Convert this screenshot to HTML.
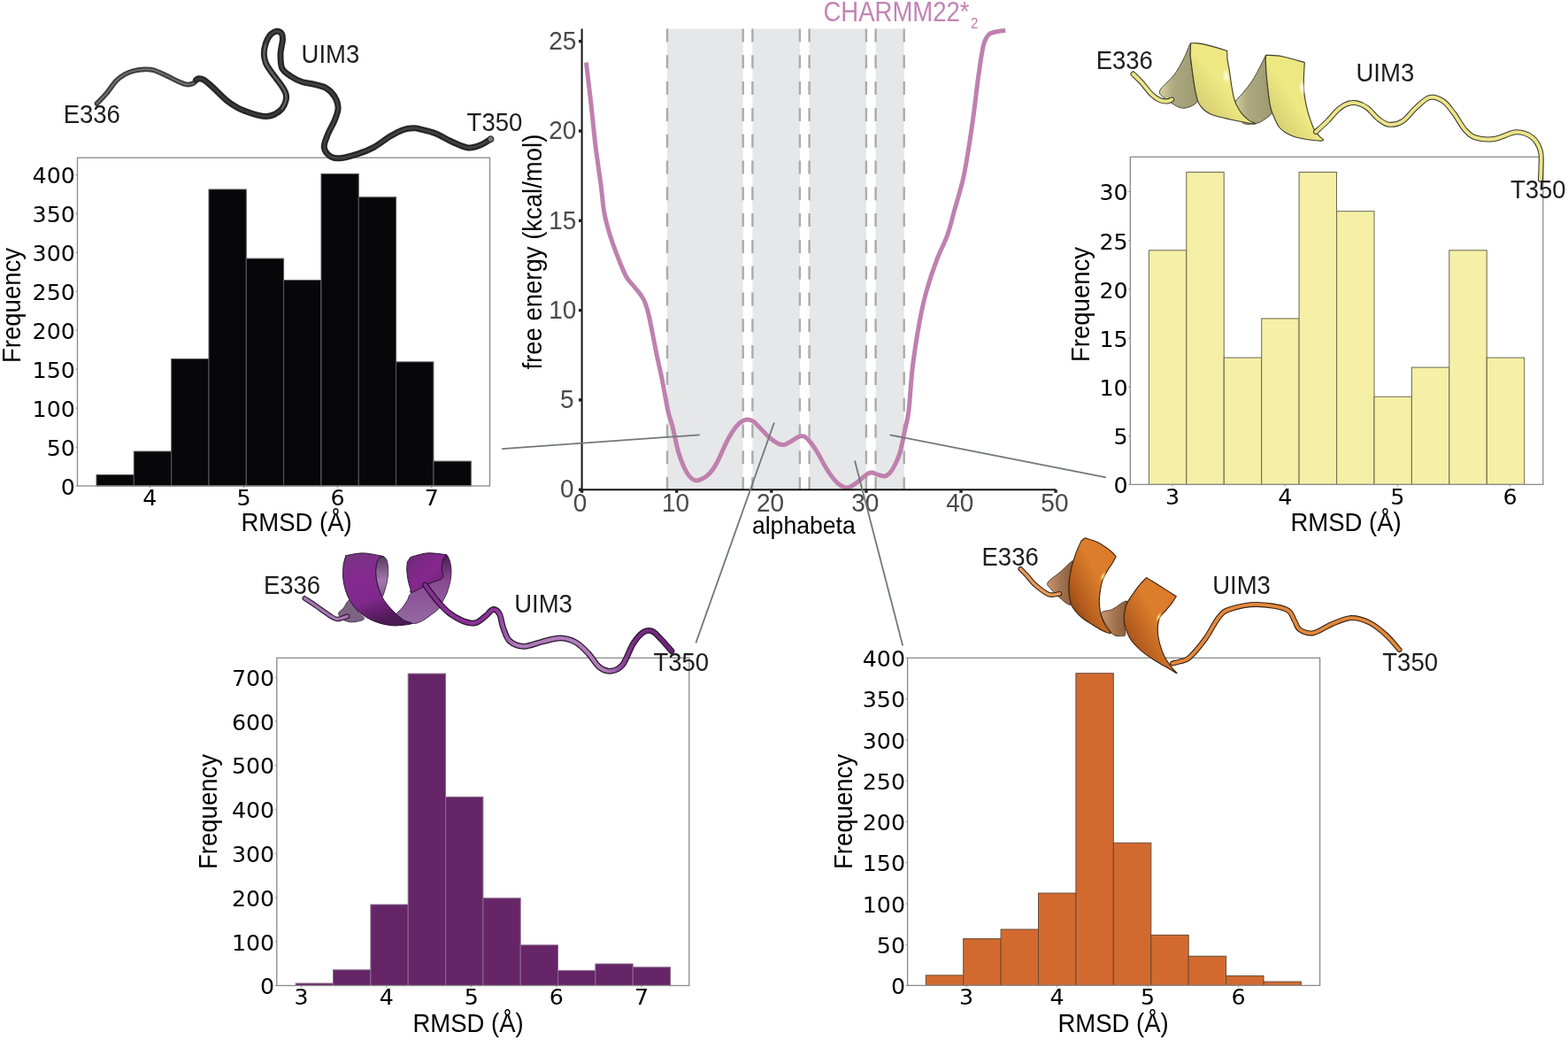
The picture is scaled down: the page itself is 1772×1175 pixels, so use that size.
<!DOCTYPE html>
<html><head><meta charset="utf-8"><title>Free energy and RMSD histograms</title>
<style>html,body{margin:0;padding:0;background:#fff;width:1772px;height:1175px;overflow:hidden}svg{display:block}</style>
</head><body>
<svg width="1772" height="1175" viewBox="0 0 1772 1175">
<defs>
<linearGradient id="gyf" x1="0" y1="1" x2="0.9" y2="0.1"><stop offset="0" stop-color="#a8a262"/><stop offset="0.25" stop-color="#d9d375"/><stop offset="0.55" stop-color="#eee983"/><stop offset="1" stop-color="#ebe57f"/></linearGradient>
<linearGradient id="gyb" x1="0" y1="0" x2="1" y2="0"><stop offset="0" stop-color="#d6d2a0"/><stop offset="0.35" stop-color="#aeaa80"/><stop offset="1" stop-color="#9c9870"/></linearGradient>
<radialGradient id="hw"><stop offset="0" stop-color="#fff" stop-opacity="0.95"/><stop offset="1" stop-color="#fff" stop-opacity="0"/></radialGradient>
<radialGradient id="hyo"><stop offset="0" stop-color="#fff8a0" stop-opacity="1"/><stop offset="1" stop-color="#ffd050" stop-opacity="0"/></radialGradient>
<linearGradient id="gpf" x1="0" y1="0" x2="0.35" y2="1"><stop offset="0" stop-color="#74387f"/><stop offset="0.35" stop-color="#842a90"/><stop offset="0.7" stop-color="#80288c"/><stop offset="1" stop-color="#4e1a56"/></linearGradient>
<linearGradient id="gpf2" x1="0" y1="0" x2="1" y2="1"><stop offset="0" stop-color="#6a2a75"/><stop offset="0.5" stop-color="#86288f"/><stop offset="1" stop-color="#6a2272"/></linearGradient>
<linearGradient id="gpi" x1="0" y1="0" x2="0" y2="1"><stop offset="0" stop-color="#5a3a60"/><stop offset="0.6" stop-color="#a478b0"/><stop offset="1" stop-color="#8a5a95"/></linearGradient>
<linearGradient id="gpb" x1="0" y1="0" x2="0" y2="1"><stop offset="0" stop-color="#4a1a52"/><stop offset="0.4" stop-color="#8a4a95"/><stop offset="1" stop-color="#946aa0"/></linearGradient>
<linearGradient id="gof" x1="0" y1="1" x2="1" y2="0"><stop offset="0" stop-color="#6a3410"/><stop offset="0.3" stop-color="#b55d1e"/><stop offset="0.6" stop-color="#dc7e2c"/><stop offset="1" stop-color="#d97a2a"/></linearGradient>
<linearGradient id="gob" x1="0" y1="0" x2="1" y2="0"><stop offset="0" stop-color="#c89670"/><stop offset="0.5" stop-color="#a47450"/><stop offset="1" stop-color="#8a5e3c"/></linearGradient>
<linearGradient id="gpc" gradientUnits="userSpaceOnUse" x1="480" y1="0" x2="760" y2="0"><stop offset="0" stop-color="#862f92"/><stop offset="0.28" stop-color="#8a3596"/><stop offset="0.36" stop-color="#ac78b8"/><stop offset="0.72" stop-color="#b07fbd"/><stop offset="0.84" stop-color="#7a2c86"/><stop offset="1" stop-color="#6e2379"/></linearGradient>
</defs>
<rect width="1772" height="1175" fill="#fff"/>
<rect x="109" y="536.4" width="42.3" height="12.6" fill="#07070a" stroke="#5a5a5a" stroke-width="1"/>
<rect x="151.3" y="510" width="42.3" height="39" fill="#07070a" stroke="#5a5a5a" stroke-width="1"/>
<rect x="193.7" y="405.5" width="42.3" height="143.5" fill="#07070a" stroke="#5a5a5a" stroke-width="1"/>
<rect x="236" y="214" width="42.3" height="335" fill="#07070a" stroke="#5a5a5a" stroke-width="1"/>
<rect x="278.3" y="292.1" width="42.3" height="256.9" fill="#07070a" stroke="#5a5a5a" stroke-width="1"/>
<rect x="320.6" y="316.6" width="42.3" height="232.4" fill="#07070a" stroke="#5a5a5a" stroke-width="1"/>
<rect x="363" y="196.4" width="42.3" height="352.6" fill="#07070a" stroke="#5a5a5a" stroke-width="1"/>
<rect x="405.3" y="222.8" width="42.3" height="326.2" fill="#07070a" stroke="#5a5a5a" stroke-width="1"/>
<rect x="447.6" y="408.9" width="42.3" height="140.1" fill="#07070a" stroke="#5a5a5a" stroke-width="1"/>
<rect x="490" y="521.1" width="42.3" height="27.9" fill="#07070a" stroke="#5a5a5a" stroke-width="1"/>
<rect x="87.5" y="178.2" width="466" height="370.8" fill="none" stroke="#8a8a8a" stroke-width="1.3"/>
<line x1="85.5" y1="549" x2="87.5" y2="549" stroke="#777" stroke-width="0.8"/>
<text x="84.9" y="558.8" font-size="25.3" font-family="'DejaVu Sans', sans-serif" fill="#000" text-anchor="end" >0</text>
<line x1="85.5" y1="505.1" x2="87.5" y2="505.1" stroke="#777" stroke-width="0.8"/>
<text x="84.9" y="514.9" font-size="25.3" font-family="'DejaVu Sans', sans-serif" fill="#000" text-anchor="end" >50</text>
<line x1="85.5" y1="461.1" x2="87.5" y2="461.1" stroke="#777" stroke-width="0.8"/>
<text x="84.9" y="470.9" font-size="25.3" font-family="'DejaVu Sans', sans-serif" fill="#000" text-anchor="end" >100</text>
<line x1="85.5" y1="417.1" x2="87.5" y2="417.1" stroke="#777" stroke-width="0.8"/>
<text x="84.9" y="426.9" font-size="25.3" font-family="'DejaVu Sans', sans-serif" fill="#000" text-anchor="end" >150</text>
<line x1="85.5" y1="373.2" x2="87.5" y2="373.2" stroke="#777" stroke-width="0.8"/>
<text x="84.9" y="383" font-size="25.3" font-family="'DejaVu Sans', sans-serif" fill="#000" text-anchor="end" >200</text>
<line x1="85.5" y1="329.2" x2="87.5" y2="329.2" stroke="#777" stroke-width="0.8"/>
<text x="84.9" y="339.1" font-size="25.3" font-family="'DejaVu Sans', sans-serif" fill="#000" text-anchor="end" >250</text>
<line x1="85.5" y1="285.3" x2="87.5" y2="285.3" stroke="#777" stroke-width="0.8"/>
<text x="84.9" y="295.1" font-size="25.3" font-family="'DejaVu Sans', sans-serif" fill="#000" text-anchor="end" >300</text>
<line x1="85.5" y1="241.4" x2="87.5" y2="241.4" stroke="#777" stroke-width="0.8"/>
<text x="84.9" y="251.2" font-size="25.3" font-family="'DejaVu Sans', sans-serif" fill="#000" text-anchor="end" >350</text>
<line x1="85.5" y1="197.4" x2="87.5" y2="197.4" stroke="#777" stroke-width="0.8"/>
<text x="84.9" y="207.2" font-size="25.3" font-family="'DejaVu Sans', sans-serif" fill="#000" text-anchor="end" >400</text>
<line x1="169.4" y1="549" x2="169.4" y2="551" stroke="#777" stroke-width="0.8"/>
<text x="169.4" y="571" font-size="25.3" font-family="'DejaVu Sans', sans-serif" fill="#000" text-anchor="middle" >4</text>
<line x1="275.5" y1="549" x2="275.5" y2="551" stroke="#777" stroke-width="0.8"/>
<text x="275.5" y="571" font-size="25.3" font-family="'DejaVu Sans', sans-serif" fill="#000" text-anchor="middle" >5</text>
<line x1="381.6" y1="549" x2="381.6" y2="551" stroke="#777" stroke-width="0.8"/>
<text x="381.6" y="571" font-size="25.3" font-family="'DejaVu Sans', sans-serif" fill="#000" text-anchor="middle" >6</text>
<line x1="487.7" y1="549" x2="487.7" y2="551" stroke="#777" stroke-width="0.8"/>
<text x="487.7" y="571" font-size="25.3" font-family="'DejaVu Sans', sans-serif" fill="#000" text-anchor="middle" >7</text>
<text transform="translate(23 345) rotate(-90) scale(1 1.04)" font-size="27.5" font-family="'Liberation Sans', Arial, sans-serif" fill="#000" text-anchor="middle" >Frequency</text>
<text transform="translate(335 599.7) scale(1 1.04)" font-size="27.5" font-family="'Liberation Sans', Arial, sans-serif" fill="#000" text-anchor="middle" >RMSD (&#197;)</text>
<rect x="1298.4" y="282.8" width="42.4" height="264.6" fill="#f5f0a6" stroke="#6c6850" stroke-width="1"/>
<rect x="1340.8" y="194.5" width="42.4" height="352.9" fill="#f5f0a6" stroke="#6c6850" stroke-width="1"/>
<rect x="1383.3" y="404.1" width="42.4" height="143.3" fill="#f5f0a6" stroke="#6c6850" stroke-width="1"/>
<rect x="1425.7" y="359.9" width="42.4" height="187.5" fill="#f5f0a6" stroke="#6c6850" stroke-width="1"/>
<rect x="1468.1" y="194.5" width="42.4" height="352.9" fill="#f5f0a6" stroke="#6c6850" stroke-width="1"/>
<rect x="1510.6" y="238.7" width="42.4" height="308.7" fill="#f5f0a6" stroke="#6c6850" stroke-width="1"/>
<rect x="1553" y="448.2" width="42.4" height="99.2" fill="#f5f0a6" stroke="#6c6850" stroke-width="1"/>
<rect x="1595.4" y="415.1" width="42.4" height="132.3" fill="#f5f0a6" stroke="#6c6850" stroke-width="1"/>
<rect x="1637.8" y="282.8" width="42.4" height="264.6" fill="#f5f0a6" stroke="#6c6850" stroke-width="1"/>
<rect x="1680.3" y="404.1" width="42.4" height="143.3" fill="#f5f0a6" stroke="#6c6850" stroke-width="1"/>
<rect x="1277.3" y="177.3" width="466.5" height="370.1" fill="none" stroke="#8a8a8a" stroke-width="1.3"/>
<line x1="1275.3" y1="547.4" x2="1277.3" y2="547.4" stroke="#777" stroke-width="0.8"/>
<text x="1274.7" y="557.2" font-size="25.3" font-family="'DejaVu Sans', sans-serif" fill="#000" text-anchor="end" >0</text>
<line x1="1275.3" y1="492.3" x2="1277.3" y2="492.3" stroke="#777" stroke-width="0.8"/>
<text x="1274.7" y="502.1" font-size="25.3" font-family="'DejaVu Sans', sans-serif" fill="#000" text-anchor="end" >5</text>
<line x1="1275.3" y1="437.1" x2="1277.3" y2="437.1" stroke="#777" stroke-width="0.8"/>
<text x="1274.7" y="446.9" font-size="25.3" font-family="'DejaVu Sans', sans-serif" fill="#000" text-anchor="end" >10</text>
<line x1="1275.3" y1="382" x2="1277.3" y2="382" stroke="#777" stroke-width="0.8"/>
<text x="1274.7" y="391.8" font-size="25.3" font-family="'DejaVu Sans', sans-serif" fill="#000" text-anchor="end" >15</text>
<line x1="1275.3" y1="326.9" x2="1277.3" y2="326.9" stroke="#777" stroke-width="0.8"/>
<text x="1274.7" y="336.7" font-size="25.3" font-family="'DejaVu Sans', sans-serif" fill="#000" text-anchor="end" >20</text>
<line x1="1275.3" y1="271.7" x2="1277.3" y2="271.7" stroke="#777" stroke-width="0.8"/>
<text x="1274.7" y="281.5" font-size="25.3" font-family="'DejaVu Sans', sans-serif" fill="#000" text-anchor="end" >25</text>
<line x1="1275.3" y1="216.6" x2="1277.3" y2="216.6" stroke="#777" stroke-width="0.8"/>
<text x="1274.7" y="226.4" font-size="25.3" font-family="'DejaVu Sans', sans-serif" fill="#000" text-anchor="end" >30</text>
<line x1="1325" y1="547.4" x2="1325" y2="549.4" stroke="#777" stroke-width="0.8"/>
<text x="1325" y="570" font-size="25.3" font-family="'DejaVu Sans', sans-serif" fill="#000" text-anchor="middle" >3</text>
<line x1="1452.2" y1="547.4" x2="1452.2" y2="549.4" stroke="#777" stroke-width="0.8"/>
<text x="1452.2" y="570" font-size="25.3" font-family="'DejaVu Sans', sans-serif" fill="#000" text-anchor="middle" >4</text>
<line x1="1579.4" y1="547.4" x2="1579.4" y2="549.4" stroke="#777" stroke-width="0.8"/>
<text x="1579.4" y="570" font-size="25.3" font-family="'DejaVu Sans', sans-serif" fill="#000" text-anchor="middle" >5</text>
<line x1="1706.6" y1="547.4" x2="1706.6" y2="549.4" stroke="#777" stroke-width="0.8"/>
<text x="1706.6" y="570" font-size="25.3" font-family="'DejaVu Sans', sans-serif" fill="#000" text-anchor="middle" >6</text>
<text transform="translate(1231 344) rotate(-90) scale(1 1.04)" font-size="27.5" font-family="'Liberation Sans', Arial, sans-serif" fill="#000" text-anchor="middle" >Frequency</text>
<text transform="translate(1521 599.5) scale(1 1.04)" font-size="27.5" font-family="'Liberation Sans', Arial, sans-serif" fill="#000" text-anchor="middle" >RMSD (&#197;)</text>
<rect x="334.2" y="1111" width="42.3" height="2.5" fill="#652567" stroke="#8a6a8c" stroke-width="1"/>
<rect x="376.5" y="1095.8" width="42.3" height="17.7" fill="#652567" stroke="#8a6a8c" stroke-width="1"/>
<rect x="418.9" y="1022" width="42.3" height="91.5" fill="#652567" stroke="#8a6a8c" stroke-width="1"/>
<rect x="461.2" y="761.1" width="42.3" height="352.4" fill="#652567" stroke="#8a6a8c" stroke-width="1"/>
<rect x="503.6" y="900.4" width="42.3" height="213.1" fill="#652567" stroke="#8a6a8c" stroke-width="1"/>
<rect x="545.9" y="1014.8" width="42.3" height="98.7" fill="#652567" stroke="#8a6a8c" stroke-width="1"/>
<rect x="588.2" y="1067.8" width="42.3" height="45.7" fill="#652567" stroke="#8a6a8c" stroke-width="1"/>
<rect x="630.6" y="1096.6" width="42.3" height="16.9" fill="#652567" stroke="#8a6a8c" stroke-width="1"/>
<rect x="672.9" y="1089" width="42.3" height="24.5" fill="#652567" stroke="#8a6a8c" stroke-width="1"/>
<rect x="715.3" y="1092.8" width="42.3" height="20.7" fill="#652567" stroke="#8a6a8c" stroke-width="1"/>
<rect x="312.8" y="743.3" width="466" height="370.2" fill="none" stroke="#8a8a8a" stroke-width="1.3"/>
<line x1="310.8" y1="1113.5" x2="312.8" y2="1113.5" stroke="#777" stroke-width="0.8"/>
<text x="310.2" y="1123.3" font-size="25.3" font-family="'DejaVu Sans', sans-serif" fill="#000" text-anchor="end" >0</text>
<line x1="310.8" y1="1063.7" x2="312.8" y2="1063.7" stroke="#777" stroke-width="0.8"/>
<text x="310.2" y="1073.5" font-size="25.3" font-family="'DejaVu Sans', sans-serif" fill="#000" text-anchor="end" >100</text>
<line x1="310.8" y1="1013.9" x2="312.8" y2="1013.9" stroke="#777" stroke-width="0.8"/>
<text x="310.2" y="1023.7" font-size="25.3" font-family="'DejaVu Sans', sans-serif" fill="#000" text-anchor="end" >200</text>
<line x1="310.8" y1="964.1" x2="312.8" y2="964.1" stroke="#777" stroke-width="0.8"/>
<text x="310.2" y="973.9" font-size="25.3" font-family="'DejaVu Sans', sans-serif" fill="#000" text-anchor="end" >300</text>
<line x1="310.8" y1="914.4" x2="312.8" y2="914.4" stroke="#777" stroke-width="0.8"/>
<text x="310.2" y="924.2" font-size="25.3" font-family="'DejaVu Sans', sans-serif" fill="#000" text-anchor="end" >400</text>
<line x1="310.8" y1="864.6" x2="312.8" y2="864.6" stroke="#777" stroke-width="0.8"/>
<text x="310.2" y="874.4" font-size="25.3" font-family="'DejaVu Sans', sans-serif" fill="#000" text-anchor="end" >500</text>
<line x1="310.8" y1="814.8" x2="312.8" y2="814.8" stroke="#777" stroke-width="0.8"/>
<text x="310.2" y="824.6" font-size="25.3" font-family="'DejaVu Sans', sans-serif" fill="#000" text-anchor="end" >600</text>
<line x1="310.8" y1="765" x2="312.8" y2="765" stroke="#777" stroke-width="0.8"/>
<text x="310.2" y="774.8" font-size="25.3" font-family="'DejaVu Sans', sans-serif" fill="#000" text-anchor="end" >700</text>
<line x1="340.6" y1="1113.5" x2="340.6" y2="1115.5" stroke="#777" stroke-width="0.8"/>
<text x="340.6" y="1135" font-size="25.3" font-family="'DejaVu Sans', sans-serif" fill="#000" text-anchor="middle" >3</text>
<line x1="436.7" y1="1113.5" x2="436.7" y2="1115.5" stroke="#777" stroke-width="0.8"/>
<text x="436.7" y="1135" font-size="25.3" font-family="'DejaVu Sans', sans-serif" fill="#000" text-anchor="middle" >4</text>
<line x1="532.8" y1="1113.5" x2="532.8" y2="1115.5" stroke="#777" stroke-width="0.8"/>
<text x="532.8" y="1135" font-size="25.3" font-family="'DejaVu Sans', sans-serif" fill="#000" text-anchor="middle" >5</text>
<line x1="628.9" y1="1113.5" x2="628.9" y2="1115.5" stroke="#777" stroke-width="0.8"/>
<text x="628.9" y="1135" font-size="25.3" font-family="'DejaVu Sans', sans-serif" fill="#000" text-anchor="middle" >6</text>
<line x1="725" y1="1113.5" x2="725" y2="1115.5" stroke="#777" stroke-width="0.8"/>
<text x="725" y="1135" font-size="25.3" font-family="'DejaVu Sans', sans-serif" fill="#000" text-anchor="middle" >7</text>
<text transform="translate(245 917) rotate(-90) scale(1 1.04)" font-size="27.5" font-family="'Liberation Sans', Arial, sans-serif" fill="#000" text-anchor="middle" >Frequency</text>
<text transform="translate(529 1165.5) scale(1 1.04)" font-size="27.5" font-family="'Liberation Sans', Arial, sans-serif" fill="#000" text-anchor="middle" >RMSD (&#197;)</text>
<rect x="1046.3" y="1101.9" width="42.4" height="11.5" fill="#d26a30" stroke="#6a4a35" stroke-width="1"/>
<rect x="1088.7" y="1060.6" width="42.4" height="52.8" fill="#d26a30" stroke="#6a4a35" stroke-width="1"/>
<rect x="1131.1" y="1050" width="42.4" height="63.4" fill="#d26a30" stroke="#6a4a35" stroke-width="1"/>
<rect x="1173.5" y="1009.1" width="42.4" height="104.3" fill="#d26a30" stroke="#6a4a35" stroke-width="1"/>
<rect x="1215.9" y="760.7" width="42.4" height="352.7" fill="#d26a30" stroke="#6a4a35" stroke-width="1"/>
<rect x="1258.4" y="952.3" width="42.4" height="161.1" fill="#d26a30" stroke="#6a4a35" stroke-width="1"/>
<rect x="1300.8" y="1056.4" width="42.4" height="57" fill="#d26a30" stroke="#6a4a35" stroke-width="1"/>
<rect x="1343.2" y="1080.3" width="42.4" height="33.1" fill="#d26a30" stroke="#6a4a35" stroke-width="1"/>
<rect x="1385.6" y="1102.6" width="42.4" height="10.8" fill="#d26a30" stroke="#6a4a35" stroke-width="1"/>
<rect x="1428" y="1109.1" width="42.4" height="4.3" fill="#d26a30" stroke="#6a4a35" stroke-width="1"/>
<rect x="1025.6" y="743.3" width="466" height="370.1" fill="none" stroke="#8a8a8a" stroke-width="1.3"/>
<line x1="1023.6" y1="1113.4" x2="1025.6" y2="1113.4" stroke="#777" stroke-width="0.8"/>
<text x="1023" y="1123.2" font-size="25.3" font-family="'DejaVu Sans', sans-serif" fill="#000" text-anchor="end" >0</text>
<line x1="1023.6" y1="1067.1" x2="1025.6" y2="1067.1" stroke="#777" stroke-width="0.8"/>
<text x="1023" y="1076.9" font-size="25.3" font-family="'DejaVu Sans', sans-serif" fill="#000" text-anchor="end" >50</text>
<line x1="1023.6" y1="1020.9" x2="1025.6" y2="1020.9" stroke="#777" stroke-width="0.8"/>
<text x="1023" y="1030.7" font-size="25.3" font-family="'DejaVu Sans', sans-serif" fill="#000" text-anchor="end" >100</text>
<line x1="1023.6" y1="974.6" x2="1025.6" y2="974.6" stroke="#777" stroke-width="0.8"/>
<text x="1023" y="984.4" font-size="25.3" font-family="'DejaVu Sans', sans-serif" fill="#000" text-anchor="end" >150</text>
<line x1="1023.6" y1="928.4" x2="1025.6" y2="928.4" stroke="#777" stroke-width="0.8"/>
<text x="1023" y="938.1" font-size="25.3" font-family="'DejaVu Sans', sans-serif" fill="#000" text-anchor="end" >200</text>
<line x1="1023.6" y1="882.1" x2="1025.6" y2="882.1" stroke="#777" stroke-width="0.8"/>
<text x="1023" y="891.9" font-size="25.3" font-family="'DejaVu Sans', sans-serif" fill="#000" text-anchor="end" >250</text>
<line x1="1023.6" y1="835.8" x2="1025.6" y2="835.8" stroke="#777" stroke-width="0.8"/>
<text x="1023" y="845.6" font-size="25.3" font-family="'DejaVu Sans', sans-serif" fill="#000" text-anchor="end" >300</text>
<line x1="1023.6" y1="789.6" x2="1025.6" y2="789.6" stroke="#777" stroke-width="0.8"/>
<text x="1023" y="799.4" font-size="25.3" font-family="'DejaVu Sans', sans-serif" fill="#000" text-anchor="end" >350</text>
<line x1="1023.6" y1="743.3" x2="1025.6" y2="743.3" stroke="#777" stroke-width="0.8"/>
<text x="1023" y="753.1" font-size="25.3" font-family="'DejaVu Sans', sans-serif" fill="#000" text-anchor="end" >400</text>
<line x1="1092.1" y1="1113.4" x2="1092.1" y2="1115.4" stroke="#777" stroke-width="0.8"/>
<text x="1092.1" y="1135" font-size="25.3" font-family="'DejaVu Sans', sans-serif" fill="#000" text-anchor="middle" >3</text>
<line x1="1194.6" y1="1113.4" x2="1194.6" y2="1115.4" stroke="#777" stroke-width="0.8"/>
<text x="1194.6" y="1135" font-size="25.3" font-family="'DejaVu Sans', sans-serif" fill="#000" text-anchor="middle" >4</text>
<line x1="1297.1" y1="1113.4" x2="1297.1" y2="1115.4" stroke="#777" stroke-width="0.8"/>
<text x="1297.1" y="1135" font-size="25.3" font-family="'DejaVu Sans', sans-serif" fill="#000" text-anchor="middle" >5</text>
<line x1="1399.6" y1="1113.4" x2="1399.6" y2="1115.4" stroke="#777" stroke-width="0.8"/>
<text x="1399.6" y="1135" font-size="25.3" font-family="'DejaVu Sans', sans-serif" fill="#000" text-anchor="middle" >6</text>
<text transform="translate(963 917) rotate(-90) scale(1 1.04)" font-size="27.5" font-family="'Liberation Sans', Arial, sans-serif" fill="#000" text-anchor="middle" >Frequency</text>
<text transform="translate(1258 1165.5) scale(1 1.04)" font-size="27.5" font-family="'Liberation Sans', Arial, sans-serif" fill="#000" text-anchor="middle" >RMSD (&#197;)</text>
<rect x="754" y="32.5" width="85.7" height="520.7" fill="#e6e7e8"/>
<rect x="850.4" y="32.5" width="53.5" height="520.7" fill="#e6e7e8"/>
<rect x="914.6" y="32.5" width="64.3" height="520.7" fill="#e6e7e8"/>
<rect x="989.6" y="32.5" width="32.1" height="520.7" fill="#e6e7e8"/>
<line x1="754" y1="32.5" x2="754" y2="553.2" stroke="#ababab" stroke-width="2.4" stroke-dasharray="15 14.8"/>
<line x1="839.7" y1="32.5" x2="839.7" y2="553.2" stroke="#ababab" stroke-width="2.4" stroke-dasharray="15 14.8"/>
<line x1="850.4" y1="32.5" x2="850.4" y2="553.2" stroke="#ababab" stroke-width="2.4" stroke-dasharray="15 14.8"/>
<line x1="903.9" y1="32.5" x2="903.9" y2="553.2" stroke="#ababab" stroke-width="2.4" stroke-dasharray="15 14.8"/>
<line x1="914.6" y1="32.5" x2="914.6" y2="553.2" stroke="#ababab" stroke-width="2.4" stroke-dasharray="15 14.8"/>
<line x1="978.9" y1="32.5" x2="978.9" y2="553.2" stroke="#ababab" stroke-width="2.4" stroke-dasharray="15 14.8"/>
<line x1="989.6" y1="32.5" x2="989.6" y2="553.2" stroke="#ababab" stroke-width="2.4" stroke-dasharray="15 14.8"/>
<line x1="1021.7" y1="32.5" x2="1021.7" y2="553.2" stroke="#ababab" stroke-width="2.4" stroke-dasharray="15 14.8"/>
<path d="M662.4 70.6 C663.3 78 665.9 99.3 667.7 115.3 C669.5 131.3 671.3 150.8 673.2 166.4 C675.1 182 677.5 196.9 679.1 209 C680.7 221.1 681 229.5 682.6 238.7 C684.2 247.9 686.1 255.1 688.9 264.3 C691.7 273.5 696.4 285.9 699.6 294 C702.8 302.1 705.3 308.2 708.1 313.2 C710.9 318.2 713.8 320.2 716.6 323.8 C719.4 327.4 723 331.3 725.1 334.5 C727.2 337.7 728 339.1 729.4 343 C730.8 346.9 731.5 348.3 733.6 357.9 C735.7 367.5 739.6 388.3 742.1 400.4 C744.6 412.4 746.4 419.5 748.5 430.2 C750.6 440.9 753 455.7 754.9 464.3 C756.8 472.9 758.1 474.5 760 482 C761.9 489.5 764.2 502 766.3 509.5 C768.4 517 770.5 522.1 772.6 526.9 C774.7 531.6 776.9 535.4 779 538 C781.1 540.6 783.2 542.1 785.3 542.7 C787.4 543.4 789.2 542.8 791.6 541.9 C794 541 797.1 539.2 799.5 537.2 C801.9 535.2 803.7 533 805.8 530 C807.9 527 809.7 523.7 812.1 519 C814.5 514.3 817.4 506.9 820 501.6 C822.6 496.3 825.4 491.3 828 487.4 C830.6 483.4 833.2 480.1 835.8 477.9 C838.4 475.7 841.1 474.3 843.7 474 C846.3 473.7 848.7 474.3 851.6 476.3 C854.5 478.3 857.9 482.6 861.1 485.8 C864.3 489 867.4 492.7 870.6 495.3 C873.8 497.9 877.5 500.4 880.1 501.6 C882.7 502.8 884 502.9 886.4 502.4 C888.8 501.9 891.7 499.9 894.3 498.5 C896.9 497.1 899.8 494.6 902.2 493.7 C904.6 492.8 906.4 492.1 908.5 492.9 C910.6 493.7 912.5 495.7 914.9 498.5 C917.3 501.3 920.2 505.3 922.8 509.5 C925.4 513.7 928.1 519.2 930.7 523.7 C933.3 528.2 936 532.7 938.6 536.4 C941.2 540.1 943.9 543.5 946.5 545.9 C949.1 548.3 952.3 549.8 954.4 550.6 C956.5 551.4 957.3 551.1 959.1 550.6 C960.9 550.1 963 549 965.4 547.4 C967.8 545.8 970.7 543.2 973.3 541.1 C975.9 539 979.1 536 981.2 534.8 C983.3 533.6 984.1 533.7 986 534 C987.9 534.3 989.9 535.7 992.3 536.4 C994.7 537.1 997.8 538.5 1000.2 538 C1002.6 537.5 1004.4 535.8 1006.5 533.2 C1008.6 530.6 1010.9 526.2 1012.8 522.2 C1014.6 518.2 1016 515.3 1017.6 509.5 C1019.2 503.7 1020.7 495 1022.3 487.4 C1023.9 479.8 1025.5 475.8 1027 463.7 C1028.5 451.6 1029.3 431.5 1031.3 414.9 C1033.3 398.3 1036.5 378.4 1039.1 364 C1041.7 349.6 1043.7 340.6 1047 328.8 C1050.3 317.1 1054.8 303.9 1058.7 293.5 C1062.6 283.1 1067.2 275.2 1070.5 266.1 C1073.8 257 1075.4 249.1 1078.3 238.7 C1081.2 228.3 1085.5 214.6 1088.1 203.5 C1090.7 192.4 1092 183.9 1093.9 172.2 C1095.9 160.5 1097.8 147.4 1099.8 133.1 C1101.8 118.8 1103.8 99.8 1105.7 86.1 C1107.7 72.4 1109.5 58.7 1111.5 50.9 C1113.5 43.1 1115.1 41.6 1117.4 39.1 C1119.7 36.6 1122.1 36.8 1125.2 36 C1128.3 35.2 1134.4 34.7 1136.2 34.4" fill="none" stroke="#bf80ae" stroke-width="5.0" stroke-linejoin="round"/>
<line x1="657.6" y1="32.5" x2="657.6" y2="554.2" stroke="#111" stroke-width="2"/>
<line x1="656.6" y1="553.2" x2="1193.1" y2="553.2" stroke="#111" stroke-width="2"/>
<line x1="654" y1="553.2" x2="657.6" y2="553.2" stroke="#222" stroke-width="3.4"/>
<text transform="translate(648.7 562.4) scale(1 1.04)" font-size="28" font-family="'Liberation Sans', Arial, sans-serif" fill="#4a4a4a" text-anchor="end" >0</text>
<line x1="654" y1="451.9" x2="657.6" y2="451.9" stroke="#222" stroke-width="3.4"/>
<text transform="translate(648.7 461.1) scale(1 1.04)" font-size="28" font-family="'Liberation Sans', Arial, sans-serif" fill="#4a4a4a" text-anchor="end" >5</text>
<line x1="654" y1="350.6" x2="657.6" y2="350.6" stroke="#222" stroke-width="3.4"/>
<text transform="translate(651.3 359.8) scale(1 1.04)" font-size="28" font-family="'Liberation Sans', Arial, sans-serif" fill="#4a4a4a" text-anchor="end" >10</text>
<line x1="654" y1="249.3" x2="657.6" y2="249.3" stroke="#222" stroke-width="3.4"/>
<text transform="translate(651.3 258.5) scale(1 1.04)" font-size="28" font-family="'Liberation Sans', Arial, sans-serif" fill="#4a4a4a" text-anchor="end" >15</text>
<line x1="654" y1="148" x2="657.6" y2="148" stroke="#222" stroke-width="3.4"/>
<text transform="translate(651.3 157.2) scale(1 1.04)" font-size="28" font-family="'Liberation Sans', Arial, sans-serif" fill="#4a4a4a" text-anchor="end" >20</text>
<line x1="654" y1="46.7" x2="657.6" y2="46.7" stroke="#222" stroke-width="3.4"/>
<text transform="translate(651.3 55.9) scale(1 1.04)" font-size="28" font-family="'Liberation Sans', Arial, sans-serif" fill="#4a4a4a" text-anchor="end" >25</text>
<line x1="657.6" y1="553.2" x2="657.6" y2="556.8" stroke="#222" stroke-width="3.4"/>
<text transform="translate(655.5 578.4) scale(1 1.04)" font-size="28" font-family="'Liberation Sans', Arial, sans-serif" fill="#4a4a4a" text-anchor="middle" >0</text>
<line x1="764.7" y1="553.2" x2="764.7" y2="556.8" stroke="#222" stroke-width="3.4"/>
<text transform="translate(763.5 578.4) scale(1 1.04)" font-size="28" font-family="'Liberation Sans', Arial, sans-serif" fill="#4a4a4a" text-anchor="middle" >10</text>
<line x1="871.8" y1="553.2" x2="871.8" y2="556.8" stroke="#222" stroke-width="3.4"/>
<text transform="translate(870.6 578.4) scale(1 1.04)" font-size="28" font-family="'Liberation Sans', Arial, sans-serif" fill="#4a4a4a" text-anchor="middle" >20</text>
<line x1="978.9" y1="553.2" x2="978.9" y2="556.8" stroke="#222" stroke-width="3.4"/>
<text transform="translate(977.7 578.4) scale(1 1.04)" font-size="28" font-family="'Liberation Sans', Arial, sans-serif" fill="#4a4a4a" text-anchor="middle" >30</text>
<line x1="1086" y1="553.2" x2="1086" y2="556.8" stroke="#222" stroke-width="3.4"/>
<text transform="translate(1084.8 578.4) scale(1 1.04)" font-size="28" font-family="'Liberation Sans', Arial, sans-serif" fill="#4a4a4a" text-anchor="middle" >40</text>
<line x1="1193.1" y1="553.2" x2="1193.1" y2="556.8" stroke="#222" stroke-width="3.4"/>
<text transform="translate(1191.9 578.4) scale(1 1.04)" font-size="28" font-family="'Liberation Sans', Arial, sans-serif" fill="#4a4a4a" text-anchor="middle" >50</text>
<text transform="translate(908.3 603) scale(1 1.04)" font-size="26.6" font-family="'Liberation Sans', Arial, sans-serif" fill="#000" text-anchor="middle" >alphabeta</text>
<text transform="translate(612.1 284.6) rotate(-90) scale(1 1.04)" font-size="27.5" font-family="'Liberation Sans', Arial, sans-serif" fill="#000" text-anchor="middle" >free energy (kcal/mol)</text>
<text transform="translate(930.5 23.6) scale(1 1.04)" font-size="29.5" font-family="'Liberation Sans', Arial, sans-serif" fill="#c383b4" text-anchor="start" textLength="165" lengthAdjust="spacingAndGlyphs">CHARMM22*</text>
<text transform="translate(1097 32.3) scale(1 1.04)" font-size="15" font-family="'Liberation Sans', Arial, sans-serif" fill="#c07fb0" text-anchor="start" >2</text>
<line x1="567.1" y1="507.2" x2="790.6" y2="491.3" stroke="#73777c" stroke-width="1.8"/>
<line x1="1005.6" y1="491.3" x2="1249.9" y2="539.3" stroke="#73777c" stroke-width="1.8"/>
<line x1="874.9" y1="477.5" x2="786.4" y2="726.4" stroke="#73777c" stroke-width="1.8"/>
<line x1="966" y1="520.6" x2="1020.2" y2="729.4" stroke="#73777c" stroke-width="1.8"/>
<path d="M109.5 117.1 C111.2 115.3 116.1 110.4 119.8 106.1 C123.5 101.8 128 94.8 131.6 91.1 C135.2 87.4 137.8 85.8 141.1 84 C144.4 82.2 147.7 80.9 151.4 80 C155.1 79.1 159.5 78.5 163.2 78.4 C166.9 78.3 169.6 78.1 173.5 79.2 C177.4 80.3 182.3 82.7 186.9 84.8 C191.5 86.9 197.2 90.1 201.1 91.9 C205 93.7 207.7 95 210.6 95.4 C213.5 95.8 216.7 95 218.5 94.2 C220.3 93.4 221 91.1 221.5 90.5" fill="none" stroke="#3e3e3e" stroke-width="5.8" stroke-linecap="round" stroke-linejoin="round"/>
<path d="M109.5 117.1 C111.2 115.3 116.1 110.4 119.8 106.1 C123.5 101.8 128 94.8 131.6 91.1 C135.2 87.4 137.8 85.8 141.1 84 C144.4 82.2 147.7 80.9 151.4 80 C155.1 79.1 159.5 78.5 163.2 78.4 C166.9 78.3 169.6 78.1 173.5 79.2 C177.4 80.3 182.3 82.7 186.9 84.8 C191.5 86.9 197.2 90.1 201.1 91.9 C205 93.7 207.7 95 210.6 95.4 C213.5 95.8 216.7 95 218.5 94.2 C220.3 93.4 221 91.1 221.5 90.5" fill="none" stroke="#747474" stroke-width="1.8" stroke-linecap="round" stroke-linejoin="round"/>
<path d="M221.5 90.5 C222 90.2 223 88.8 224.5 88.8 C226 88.8 227.8 88.7 230.4 90.3 C233 91.9 235.9 94.5 240 98.2 C244.1 101.9 250.3 108.5 254.8 112.3 C259.3 116.1 263.1 118.6 267.2 121 C271.3 123.4 275.5 125 279.7 126.6 C283.9 128.2 288.5 129.5 292.1 130.3 C295.7 131.1 298.3 131.7 301.4 131.5 C304.5 131.3 307.8 130.4 310.7 129 C313.6 127.5 316.7 125.4 318.8 122.8 C320.9 120.2 322.4 116.3 323.1 113.5 C323.8 110.7 323.7 108.6 323.1 106.1 C322.5 103.6 321.1 101.4 319.4 98.6 C317.6 95.8 314.9 92.4 312.6 89.3 C310.3 86.2 307.8 83 305.7 80 C303.6 77 301.5 74.2 300.3 71 C299.1 67.8 298.3 64.7 298.3 61 C298.3 57.3 299.2 52.4 300.3 49 C301.4 45.6 303.1 42.6 304.6 40.5 C306.1 38.4 307.9 37.1 309.5 36.3 C311.1 35.4 313 35 314.5 35.4 C316 35.8 317.8 37 318.6 38.6 C319.4 40.2 319.5 42.5 319.4 45 C319.3 47.5 318.4 50.7 318 53.5 C317.6 56.3 316.9 58 317 62 C317.1 66 316.8 73.1 318.8 77.2 C320.8 81.3 325.2 83.9 329 86.4 C332.8 89 336.7 91 341.3 92.5 C345.9 94 352 94.4 356.6 95.6 C361.2 96.8 365.3 97.5 368.9 99.7 C372.5 101.9 375.8 105.2 378 108.9 C380.2 112.6 382.1 117.5 382.1 122.1 C382.1 126.7 379.9 131.6 378 136.4 C376.1 141.2 372.8 146 370.8 151 C368.9 156 365.8 162 366.3 166.3 C366.8 170.6 370.6 174.9 373.9 176.9 C377.2 178.9 381 179 386.1 178.5 C391.2 178 398.3 175.9 404.4 173.9 C410.5 171.9 416.5 169.6 422.6 166.3 C428.7 163 435.3 157.4 440.9 154.1 C446.5 150.8 451.7 148.1 456.2 146.5 C460.7 144.9 465 144.9 468 144.8 C471 144.7 470.3 144.9 474.4 145.9 C478.5 146.9 486.6 148.6 492.7 151 C498.8 153.4 504.8 157.5 510.9 160.2 C517 162.8 523.7 166.4 529.3 166.9 C534.9 167.4 540.3 164.8 544.5 163.2 C548.7 161.6 552.8 158.2 554.5 157.2" fill="none" stroke="#262626" stroke-width="7" stroke-linecap="round" stroke-linejoin="round"/>
<path d="M221.5 90.5 C222 90.2 223 88.8 224.5 88.8 C226 88.8 227.8 88.7 230.4 90.3 C233 91.9 235.9 94.5 240 98.2 C244.1 101.9 250.3 108.5 254.8 112.3 C259.3 116.1 263.1 118.6 267.2 121 C271.3 123.4 275.5 125 279.7 126.6 C283.9 128.2 288.5 129.5 292.1 130.3 C295.7 131.1 298.3 131.7 301.4 131.5 C304.5 131.3 307.8 130.4 310.7 129 C313.6 127.5 317.4 123.8 318.8 122.8" fill="none" stroke="#3c3c3c" stroke-width="2.4" stroke-linecap="round" stroke-linejoin="round"/>
<path d="M318.8 122.8 C319.5 121.2 322.4 116.3 323.1 113.5 C323.8 110.7 323.7 108.6 323.1 106.1 C322.5 103.6 321.1 101.4 319.4 98.6 C317.6 95.8 314.9 92.4 312.6 89.3 C310.3 86.2 307.8 83 305.7 80 C303.6 77 301.5 74.2 300.3 71 C299.1 67.8 298.3 64.7 298.3 61 C298.3 57.3 300 51 300.3 49" fill="none" stroke="#626262" stroke-width="2.4" stroke-linecap="round" stroke-linejoin="round"/>
<path d="M300.3 49 C301 47.6 303.1 42.6 304.6 40.5 C306.1 38.4 307.9 37.1 309.5 36.3 C311.1 35.4 313 35 314.5 35.4 C316 35.8 317.8 37 318.6 38.6 C319.4 40.2 319.5 42.5 319.4 45 C319.3 47.5 318.4 50.7 318 53.5 C317.6 56.3 316.9 58 317 62 C317.1 66 316.8 73.1 318.8 77.2 C320.8 81.3 325.2 83.9 329 86.4 C332.8 89 336.7 91 341.3 92.5 C345.9 94 352 94.4 356.6 95.6 C361.2 96.8 365.3 97.5 368.9 99.7 C372.5 101.9 375.8 105.2 378 108.9 C380.2 112.6 382.1 117.5 382.1 122.1 C382.1 126.7 379.9 131.6 378 136.4 C376.1 141.2 372.8 146 370.8 151 C368.9 156 365.8 162 366.3 166.3 C366.8 170.6 370.6 174.9 373.9 176.9 C377.2 178.9 381 179 386.1 178.5 C391.2 178 398.3 175.9 404.4 173.9 C410.5 171.9 416.5 169.6 422.6 166.3 C428.7 163 435.3 157.4 440.9 154.1 C446.5 150.8 451.7 148.1 456.2 146.5 C460.7 144.9 465 144.9 468 144.8 C471 144.7 470.3 144.9 474.4 145.9 C478.5 146.9 486.6 148.6 492.7 151 C498.8 153.4 504.8 157.5 510.9 160.2 C517 162.8 523.7 166.4 529.3 166.9 C534.9 167.4 540.3 164.8 544.5 163.2 C548.7 161.6 552.8 158.2 554.5 157.2" fill="none" stroke="#424242" stroke-width="2.4" stroke-linecap="round" stroke-linejoin="round"/>
<circle cx="554.5" cy="157.2" r="3.4" fill="#777" stroke="#222" stroke-width="1"/>
<path d="M1345.6 48.9 C1344.3 49.6 1340.6 60.8 1337.5 66.8 C1334.4 72.8 1331.3 78.7 1326.8 84.7 C1322.3 90.7 1312.2 98 1310.7 102.6 C1309.2 107.1 1313.7 108.7 1318 112 C1322.3 115.3 1330.7 121.8 1336.6 122.2 C1342.5 122.6 1351.4 118.2 1353.6 114.2 C1355.8 110.2 1351 103.8 1350 98.1 C1349 92.4 1348.2 86.2 1347.4 80.2 C1346.6 74.2 1345.4 67.5 1345.1 62.3 C1344.8 57.1 1346.9 48.1 1345.6 48.9Z" fill="url(#gyb)" stroke="#3b3b2c" stroke-width="0.9" stroke-linejoin="round" />
<path d="M1430.7 62.2 C1430.2 62.4 1428.7 65.9 1427.3 68.6 C1425.9 71.3 1424.5 74.5 1422.4 78.4 C1420.3 82.3 1417.5 87.7 1414.6 92.1 C1411.7 96.5 1408.1 100.7 1404.8 104.8 C1401.5 108.9 1396.3 113.2 1395 116.6 C1393.7 120 1395.4 121.2 1397 125 C1398.6 128.8 1401.2 136.7 1404.8 139.1 C1408.4 141.5 1414.8 140.1 1418.5 139.6 C1422.2 139.1 1424.2 138 1427.3 136.1 C1430.4 134.2 1435.6 130.6 1437.1 128.3 C1438.6 126 1436.8 126.5 1436.1 122.4 C1435.4 118.3 1434 110.2 1433.2 103.8 C1432.4 97.4 1431.7 90.3 1431.2 84.3 C1430.7 78.3 1430.3 71.3 1430.2 67.6 C1430.1 63.9 1431.2 62 1430.7 62.2Z" fill="url(#gyb)" stroke="#3b3b2c" stroke-width="0.9" stroke-linejoin="round" />
<path d="M1280.5 83.5 C1282.1 85.1 1286.5 89.2 1290 93 C1293.5 96.8 1297.8 103.1 1301.2 106.4 C1304.6 109.8 1307.7 111.8 1310.6 113.1 C1313.5 114.4 1316.5 114.6 1318.8 114.5 C1321.1 114.4 1323.3 112.8 1324.2 112.5" fill="none" stroke="#3b3b2c" stroke-width="6" stroke-linecap="round" stroke-linejoin="round"/>
<path d="M1280.5 83.5 C1282.1 85.1 1286.5 89.2 1290 93 C1293.5 96.8 1297.8 103.1 1301.2 106.4 C1304.6 109.8 1307.7 111.8 1310.6 113.1 C1313.5 114.4 1316.5 114.6 1318.8 114.5 C1321.1 114.4 1323.3 112.8 1324.2 112.5" fill="none" stroke="#ebe48a" stroke-width="3.9" stroke-linecap="round" stroke-linejoin="round"/>
<path d="M1386.7 57.4 C1383.4 56.4 1372.5 53 1367 51.6 C1361.5 50.2 1357.2 49.4 1353.6 48.9 C1350 48.4 1346.9 48.9 1345.6 48.9 L1345.1 62.3 C1345.5 65.3 1346.6 74.2 1347.4 80.2 C1348.2 86.2 1349 92.4 1350 98.1 C1351 103.8 1352.4 110.5 1353.6 114.2 C1354.8 117.9 1355.7 118.5 1357.2 120.4 C1358.7 122.3 1360.2 124.1 1362.6 125.8 C1365 127.5 1367 128.8 1371.5 130.3 C1376 131.8 1383.5 133.4 1389.4 134.7 C1395.4 136 1402.3 137.4 1407.2 138.3 C1412.1 139.2 1418.4 140.4 1419 140 C1419.6 139.6 1413.5 137.7 1410.8 135.6 C1408.1 133.5 1405 130.4 1402.8 127.6 C1400.6 124.8 1398.8 121.3 1397.4 118.6 C1396.1 115.9 1395.6 114.9 1394.7 111.5 C1393.8 108.1 1392.9 103.3 1392 98.1 C1391.1 92.9 1390.2 85.4 1389.4 80.2 C1388.6 75 1387.5 70.6 1387.1 66.8 C1386.6 63 1386.8 59 1386.7 57.4 Z" fill="url(#gyf)" stroke="#3b3b2c" stroke-width="1.1" stroke-linejoin="round" />
<ellipse cx="1385.5" cy="86" rx="4.2" ry="8.5" transform="rotate(-8 1385.5 86)" fill="url(#hw)"/>
<path d="M1474.3 70.6 C1470 69.4 1456.1 65.1 1448.8 63.7 C1441.5 62.3 1433.7 62.5 1430.7 62.2 L1430.2 67.6 C1430.4 70.4 1430.7 78.3 1431.2 84.3 C1431.7 90.3 1432.4 97.4 1433.2 103.8 C1434 110.2 1434.8 117.2 1436.1 122.4 C1437.4 127.6 1439.4 131.6 1441 135.2 C1442.6 138.8 1444 141.6 1445.9 144 C1447.9 146.4 1449.8 148 1452.7 149.8 C1455.6 151.6 1459.2 153.4 1463.5 154.7 C1467.8 156 1473.3 157 1478.2 157.7 C1483.1 158.4 1490.1 159.1 1492.9 159.1 C1495.8 159.1 1495.3 158.3 1495.3 157.7 C1495.3 157.1 1494.5 157.3 1492.9 155.7 C1491.4 154.1 1488 151.2 1486 147.9 C1484 144.6 1482.6 140.2 1481.1 136.1 C1479.6 132 1478.3 128 1477.2 123.4 C1476.1 118.8 1475 113.6 1474.3 108.7 C1473.6 103.8 1473.4 98.9 1473.3 94 C1473.2 89.1 1473.6 83.3 1473.8 79.4 C1474 75.5 1474.2 72.1 1474.3 70.6 Z" fill="url(#gyf)" stroke="#3b3b2c" stroke-width="1.1" stroke-linejoin="round" />
<ellipse cx="1471.5" cy="99" rx="4.2" ry="8.5" transform="rotate(-8 1471.5 99)" fill="url(#hw)"/>
<path d="M1487 149 C1489.2 147 1495.8 141.2 1500 137 C1504.2 132.8 1508.3 127.2 1512 124 C1515.7 120.8 1518.5 118.8 1522 117.5 C1525.5 116.2 1529 115.6 1532.8 116.3 C1536.6 117 1541 118.8 1545.1 121.8 C1549.2 124.8 1553.2 130.8 1557.3 134 C1561.4 137.2 1565 140.2 1569.6 140.7 C1574.2 141.2 1579.8 140.2 1584.9 137.1 C1590 133.9 1595 126.3 1600.1 121.8 C1605.2 117.3 1610.3 111.4 1615.4 110.1 C1620.5 108.8 1626.1 111.1 1630.7 114.1 C1635.3 117.1 1638.9 122.6 1643 127.9 C1647.1 133.2 1651.1 141.6 1655.2 146.2 C1659.3 150.8 1661.8 153.6 1667.4 155.4 C1673 157.2 1681.2 158 1688.9 157 C1696.6 156 1706.2 149.6 1713.3 149.3 C1720.4 149 1727.1 151.8 1731.7 155.4 C1736.3 159 1739.3 165.1 1740.9 170.7 C1742.5 176.3 1741.5 183.8 1741.5 189.1 C1741.5 194.4 1741 200.5 1740.9 202.8" fill="none" stroke="#3b3b2c" stroke-width="6" stroke-linecap="round" stroke-linejoin="round"/>
<path d="M1487 149 C1489.2 147 1495.8 141.2 1500 137 C1504.2 132.8 1508.3 127.2 1512 124 C1515.7 120.8 1518.5 118.8 1522 117.5 C1525.5 116.2 1529 115.6 1532.8 116.3 C1536.6 117 1541 118.8 1545.1 121.8 C1549.2 124.8 1553.2 130.8 1557.3 134 C1561.4 137.2 1565 140.2 1569.6 140.7 C1574.2 141.2 1579.8 140.2 1584.9 137.1 C1590 133.9 1595 126.3 1600.1 121.8 C1605.2 117.3 1610.3 111.4 1615.4 110.1 C1620.5 108.8 1626.1 111.1 1630.7 114.1 C1635.3 117.1 1638.9 122.6 1643 127.9 C1647.1 133.2 1651.1 141.6 1655.2 146.2 C1659.3 150.8 1661.8 153.6 1667.4 155.4 C1673 157.2 1681.2 158 1688.9 157 C1696.6 156 1706.2 149.6 1713.3 149.3 C1720.4 149 1727.1 151.8 1731.7 155.4 C1736.3 159 1739.3 165.1 1740.9 170.7 C1742.5 176.3 1741.5 183.8 1741.5 189.1 C1741.5 194.4 1741 200.5 1740.9 202.8" fill="none" stroke="#ebe48a" stroke-width="3.9" stroke-linecap="round" stroke-linejoin="round"/>
<path d="M382.6 692.7 C382.9 690.7 386.1 689.6 388.1 687.2 C390 684.8 392.4 678.7 394.4 678.2 C396.3 677.8 397.8 682.1 399.8 684.5 C401.8 686.9 404.2 690.2 406.1 692.7 C408.1 695.1 411.8 697.4 411.5 699 C411.2 700.6 407.2 701.5 404.3 702.1 C401.5 702.7 397.4 703.1 394.4 702.6 C391.4 702.1 388.2 700.6 386.3 699 C384.3 697.3 382.3 694.6 382.6 692.7Z" fill="#7c6484" stroke="#2a1630" stroke-width="0.8" stroke-linejoin="round" />
<path d="M447.7 695.4 C447.1 692.6 452.8 689.2 454.9 686.3 C457 683.5 458.5 681.1 460.3 678.2 C462.1 675.3 461.2 672.5 465.7 669.2 C470.2 665.9 481.7 661 487.4 658.3 C493.1 655.6 498.1 655.6 500 652.9 C502 650.2 499 645.7 499.1 642.1 C499.3 638.5 500 633.8 500.9 631.3 C501.8 628.7 503.3 626.4 504.5 626.7 C505.7 627 507.2 630.2 508.1 633.1 C509.1 635.9 509.8 640.1 510 643.9 C510.1 647.7 509.8 651.4 509.1 655.6 C508.3 659.8 506.9 665.1 505.4 669.2 C503.9 673.2 501.5 677 500 680 C498.5 683 498.5 684.8 496.4 687.2 C494.3 689.6 490.4 692.2 487.4 694.5 C484.4 696.7 481.4 699.1 478.4 700.8 C475.3 702.4 472.6 704 469.3 704.4 C466 704.8 462.1 704.5 458.5 703 C454.9 701.5 448.3 698.1 447.7 695.4Z" fill="url(#gpb)" stroke="#2a1630" stroke-width="0.8" stroke-linejoin="round" />
<path d="M344.3 676 C346.5 677.5 352.9 681.6 357.5 684.8 C362.1 688 368.3 692.6 372.2 695.1 C376.1 697.6 377.6 699.3 381 699.5 C384.4 699.7 390.7 696.8 392.6 696.3" fill="none" stroke="#2a1630" stroke-width="5.6" stroke-linecap="round" stroke-linejoin="round"/>
<path d="M344.3 676 C346.5 677.5 352.9 681.6 357.5 684.8 C362.1 688 368.3 692.6 372.2 695.1 C376.1 697.6 377.6 699.3 381 699.5 C384.4 699.7 390.7 696.8 392.6 696.3" fill="none" stroke="#a576b0" stroke-width="3.4" stroke-linecap="round" stroke-linejoin="round"/>
<path d="M432.3 628.5 C433.8 628.7 435.8 629.9 436.8 632.2 C437.9 634.4 438.5 638.2 438.6 642.1 C438.8 646 438.3 651.6 437.7 655.6 C437.1 659.7 435.9 663.5 435 666.5 C434.1 669.5 433.2 673.2 432.3 673.7 C431.4 674.1 430.6 671.7 429.6 669.2 C428.5 666.6 426.8 662.1 426 658.3 C425.2 654.6 424.7 650.1 424.6 646.6 C424.6 643.1 425 640.1 425.5 637.6 C426.1 635 426.7 632.8 427.8 631.3 C428.9 629.7 430.8 628.4 432.3 628.5Z" fill="url(#gpi)" stroke="#2a1630" stroke-width="0.8" stroke-linejoin="round" />
<path d="M433.2 628.5 C429.4 627.9 417.7 625.1 410.6 624.9 C403.6 624.8 394.1 627.2 390.8 627.6 L388.1 637.6 C388 639.8 387.3 646.6 387.6 651.1 C387.9 655.6 388.6 660.1 389.9 664.7 C391.1 669.2 393 674.1 395.3 678.2 C397.5 682.3 400.1 685.7 403.4 689 C406.7 692.4 410.9 695.6 415.1 698.1 C419.4 700.6 424.2 702.5 428.7 703.9 C433.2 705.4 438.5 706.2 442.2 706.6 C446 707.1 447.4 707 451.3 706.6 C455.2 706.3 464.8 705.4 465.7 704.4 C466.6 703.4 459.5 702.4 456.7 700.8 C453.8 699.1 451.1 696.7 448.6 694.5 C446 692.2 443.7 689.9 441.3 687.2 C438.9 684.5 436.1 681.2 434.1 678.2 C432.2 675.2 430.9 672.5 429.6 669.2 C428.2 665.9 426.8 662.1 426 658.3 C425.2 654.6 424.7 650.1 424.6 646.6 C424.6 643.1 425 640.1 425.5 637.6 C426.1 635 426.5 632.8 427.8 631.3 C429.1 629.7 432.3 629 433.2 628.5 Z" fill="url(#gpf)" stroke="#2a1630" stroke-width="1" stroke-linejoin="round" />
<path d="M504.5 626.7 C500.9 626.4 489.6 624.5 482.9 624.9 C476.1 625.4 467.1 628.7 463.9 629.4 L460.3 634.9 C460.2 636.5 459.7 641.3 459.8 644.8 C460 648.3 460.5 652.2 461.2 655.6 C461.9 659.1 463.2 663.3 463.9 665.6 C464.7 667.8 461.8 670.4 465.7 669.2 C469.6 668 481.7 661 487.4 658.3 C493.1 655.6 498.1 655.6 500 652.9 C502 650.2 499 645.7 499.1 642.1 C499.3 638.5 500 633.8 500.9 631.3 C501.8 628.7 503.9 627.5 504.5 626.7 Z" fill="url(#gpf2)" stroke="#2a1630" stroke-width="1" stroke-linejoin="round" />
<path d="M480.7 661 C481.8 662.5 484.6 666.8 487 670 C489.4 673.2 492 676.7 495.4 680.4 C498.8 684.1 502.8 688.8 507.2 692.2 C511.6 695.6 516.9 699 521.8 701 C526.7 703 532.1 704.6 536.5 703.9 C540.9 703.2 544.8 699.1 548.2 696.6 C551.6 694.1 554.3 689.1 557 688.6 C559.7 688.1 562.4 690.1 564.4 693.6 C566.4 697.1 566.8 704.7 568.8 709.8 C570.8 714.9 572.2 721 576.1 724.4 C580 727.8 586.2 730.2 592.3 730.3 C598.4 730.4 606 726.6 612.8 725 C619.6 723.4 626.9 720.8 633.3 720.9 C639.6 721 645.5 722.9 650.9 725.9 C656.3 728.9 661.2 734.5 665.6 739.1 C670 743.8 673.2 750.6 677.4 753.8 C681.6 757 686.2 758.7 690.6 758.2 C695 757.7 699.6 756 703.8 750.9 C707.9 745.8 711.6 733.5 715.5 727.4 C719.4 721.3 723.5 716.6 727.2 714.2 C730.9 711.9 734.1 711.8 737.5 713.3 C740.9 714.8 744.2 719.3 747.8 723 C751.4 726.7 757.1 733.5 759 735.6" fill="none" stroke="#2a1630" stroke-width="6.8" stroke-linecap="round" stroke-linejoin="round"/>
<path d="M480.7 661 C481.8 662.5 484.6 666.8 487 670 C489.4 673.2 492 676.7 495.4 680.4 C498.8 684.1 502.8 688.8 507.2 692.2 C511.6 695.6 516.9 699 521.8 701 C526.7 703 532.1 704.6 536.5 703.9 C540.9 703.2 544.8 699.1 548.2 696.6 C551.6 694.1 554.3 689.1 557 688.6 C559.7 688.1 562.4 690.1 564.4 693.6 C566.4 697.1 566.8 704.7 568.8 709.8 C570.8 714.9 572.2 721 576.1 724.4 C580 727.8 586.2 730.2 592.3 730.3 C598.4 730.4 606 726.6 612.8 725 C619.6 723.4 626.9 720.8 633.3 720.9 C639.6 721 645.5 722.9 650.9 725.9 C656.3 728.9 661.2 734.5 665.6 739.1 C670 743.8 673.2 750.6 677.4 753.8 C681.6 757 686.2 758.7 690.6 758.2 C695 757.7 699.6 756 703.8 750.9 C707.9 745.8 711.6 733.5 715.5 727.4 C719.4 721.3 723.5 716.6 727.2 714.2 C730.9 711.9 734.1 711.8 737.5 713.3 C740.9 714.8 744.2 719.3 747.8 723 C751.4 726.7 757.1 733.5 759 735.6" fill="none" stroke="url(#gpc)" stroke-width="4.2" stroke-linecap="round" stroke-linejoin="round"/>
<path d="M1184 658.3 C1185.7 655 1193.4 650.4 1198.1 646.3 C1202.8 642.2 1210 634.4 1212.1 633.7 C1214.2 633 1211.4 637.2 1210.7 642.1 C1210 647 1208 656.7 1207.9 663.2 C1207.8 669.8 1210.1 678.1 1210 681.4 C1209.9 684.7 1209.2 683.7 1207.2 682.8 C1205.2 681.9 1201.3 678.6 1198.1 675.8 C1194.9 673 1190.5 668.9 1188.2 666 C1185.9 663.1 1182.3 661.6 1184 658.3Z" fill="url(#gob)" stroke="#3a2210" stroke-width="0.8" stroke-linejoin="round" />
<path d="M1244.4 693.4 C1244.9 689.4 1252.1 690.8 1257 688.4 C1261.9 686 1271.7 677.2 1273.9 679.3 C1276.1 681.4 1270.8 694.9 1270.4 701.1 C1270.1 707.3 1272.2 713.6 1271.8 716.5 C1271.4 719.4 1270.3 718.4 1268.3 718.6 C1266.3 718.8 1262.1 719 1259.8 717.9 C1257.5 716.8 1256.8 716.4 1254.2 712.3 C1251.6 708.2 1243.9 697.4 1244.4 693.4Z" fill="url(#gob)" stroke="#3a2210" stroke-width="0.8" stroke-linejoin="round" />
<path d="M1153.3 642.7 C1154.8 644.2 1159.2 649 1162 652 C1164.8 655 1166.2 657.7 1170.1 661 C1174 664.3 1180.7 670 1185.3 671.6 C1189.9 673.2 1195.5 670.9 1197.5 670.7" fill="none" stroke="#3a2210" stroke-width="5.6" stroke-linecap="round" stroke-linejoin="round"/>
<path d="M1153.3 642.7 C1154.8 644.2 1159.2 649 1162 652 C1164.8 655 1166.2 657.7 1170.1 661 C1174 664.3 1180.7 670 1185.3 671.6 C1189.9 673.2 1195.5 670.9 1197.5 670.7" fill="none" stroke="#e49a5a" stroke-width="3.4" stroke-linecap="round" stroke-linejoin="round"/>
<path d="M1261.2 628.8 C1260 627.6 1257.7 624.5 1254.2 621.8 C1250.7 619.1 1244.9 615 1240.2 612.6 C1235.5 610.2 1228.5 608.5 1226.2 607.7 L1221.9 611.2 C1221 613.3 1218.2 618.8 1216.3 623.9 C1214.4 629 1212.1 635.5 1210.7 642.1 C1209.3 648.7 1208 656.7 1207.9 663.2 C1207.8 669.8 1208.8 677 1210 681.4 C1211.2 685.8 1212.7 687 1214.9 689.8 C1217.1 692.6 1219.8 695.5 1223.3 698.3 C1226.8 701.1 1231.8 704.1 1236 706.7 C1240.2 709.3 1245.3 712.3 1248.6 713.7 C1251.9 715.1 1255.4 716 1255.6 715.1 C1255.8 714.2 1251.9 711.4 1250 708.1 C1248.1 704.8 1245.7 700 1244.4 695.5 C1243.1 691 1242.5 685.6 1242.3 681.4 C1242.1 677.2 1242.4 674.4 1243 670.2 C1243.6 666 1244.4 660.4 1245.8 656.2 C1247.2 652 1249.5 648.2 1251.4 644.9 C1253.3 641.6 1255.4 639.2 1257 636.5 C1258.6 633.8 1260.5 630.1 1261.2 628.8 Z" fill="url(#gof)" stroke="#3a2210" stroke-width="1.1" stroke-linejoin="round" />
<ellipse cx="1246.5" cy="651" rx="2.6" ry="6.5" transform="rotate(25 1246.5 651)" fill="url(#hyo)"/>
<path d="M1329.3 673.7 C1326.2 671.7 1316 665.3 1310.4 661.8 C1304.8 658.3 1298.1 654.1 1295.6 652.6 L1289.3 659 C1287.9 660.9 1283.7 666 1280.9 670.2 C1278.1 674.4 1274.2 679.1 1272.5 684.2 C1270.8 689.4 1269.7 695 1270.4 701.1 C1271.1 707.2 1273.6 715.1 1276.7 720.7 C1279.8 726.3 1284.6 730.6 1289.3 734.8 C1294 739 1299.4 742.5 1304.8 746 C1310.2 749.5 1317.4 753.3 1321.6 755.8 C1325.8 758.2 1329.5 760.9 1330 760.7 C1330.5 760.5 1326.7 757.5 1324.4 754.4 C1322.1 751.2 1318.3 746.5 1316 741.8 C1313.7 737.1 1311.7 731.2 1310.4 726.3 C1309.1 721.4 1308.3 717 1308.3 712.3 C1308.3 707.6 1308.9 702 1310.4 698.3 C1311.9 694.5 1315.1 692.6 1317.4 689.8 C1319.7 687 1322.4 684.1 1324.4 681.4 C1326.4 678.7 1328.5 675 1329.3 673.7 Z" fill="url(#gof)" stroke="#3a2210" stroke-width="1.1" stroke-linejoin="round" />
<ellipse cx="1309.5" cy="697" rx="2.6" ry="6.5" transform="rotate(25 1309.5 697)" fill="url(#hyo)"/>
<path d="M1325 749.5 C1326.3 749.2 1329.9 748.5 1333 747.5 C1336.1 746.5 1339 747.5 1343.8 743.2 C1348.6 738.9 1356.5 729.5 1362.1 721.9 C1367.7 714.3 1372.7 703.1 1377.3 697.5 C1381.9 691.9 1382.4 690.8 1389.5 688.4 C1396.6 686 1409.3 682.9 1420 682.9 C1430.7 682.9 1446.4 685.4 1453.5 688.4 C1460.6 691.4 1460.1 696.8 1462.6 700.6 C1465.1 704.4 1465.1 708.8 1468.7 711.2 C1472.3 713.6 1477.9 716.2 1484 715.2 C1490.1 714.2 1498.2 708 1505.3 705.1 C1512.4 702.2 1519.5 698.4 1526.6 698.1 C1533.7 697.9 1541.4 700.4 1548 703.6 C1554.6 706.8 1560.7 712.2 1566.3 717.3 C1571.9 722.4 1579 731.3 1581.5 734.1" fill="none" stroke="#3a2210" stroke-width="6" stroke-linecap="round" stroke-linejoin="round"/>
<path d="M1325 749.5 C1326.3 749.2 1329.9 748.5 1333 747.5 C1336.1 746.5 1339 747.5 1343.8 743.2 C1348.6 738.9 1356.5 729.5 1362.1 721.9 C1367.7 714.3 1372.7 703.1 1377.3 697.5 C1381.9 691.9 1382.4 690.8 1389.5 688.4 C1396.6 686 1409.3 682.9 1420 682.9 C1430.7 682.9 1446.4 685.4 1453.5 688.4 C1460.6 691.4 1460.1 696.8 1462.6 700.6 C1465.1 704.4 1465.1 708.8 1468.7 711.2 C1472.3 713.6 1477.9 716.2 1484 715.2 C1490.1 714.2 1498.2 708 1505.3 705.1 C1512.4 702.2 1519.5 698.4 1526.6 698.1 C1533.7 697.9 1541.4 700.4 1548 703.6 C1554.6 706.8 1560.7 712.2 1566.3 717.3 C1571.9 722.4 1579 731.3 1581.5 734.1" fill="none" stroke="#e2893f" stroke-width="3.8" stroke-linecap="round" stroke-linejoin="round"/>
<text transform="translate(71.7 138.8) scale(1 1.04)" font-size="27.5" font-family="'Liberation Sans', Arial, sans-serif" fill="#1e1e1e">E336</text>
<text transform="translate(340.6 71.3) scale(1 1.04)" font-size="27.5" font-family="'Liberation Sans', Arial, sans-serif" fill="#1e1e1e">UIM3</text>
<text transform="translate(527.6 148.2) scale(1 1.04)" font-size="27.5" font-family="'Liberation Sans', Arial, sans-serif" fill="#1e1e1e">T350</text>
<text transform="translate(1238.7 78.2) scale(1 1.04)" font-size="27.5" font-family="'Liberation Sans', Arial, sans-serif" fill="#1e1e1e">E336</text>
<text transform="translate(1532.5 91.8) scale(1 1.04)" font-size="27.5" font-family="'Liberation Sans', Arial, sans-serif" fill="#1e1e1e">UIM3</text>
<text transform="translate(1707 224.3) scale(1 1.04)" font-size="27.5" font-family="'Liberation Sans', Arial, sans-serif" fill="#1e1e1e">T350</text>
<text transform="translate(297.9 670.6) scale(1 1.04)" font-size="27.5" font-family="'Liberation Sans', Arial, sans-serif" fill="#1e1e1e">E336</text>
<text transform="translate(581.2 692) scale(1 1.04)" font-size="27.5" font-family="'Liberation Sans', Arial, sans-serif" fill="#1e1e1e">UIM3</text>
<text transform="translate(738.5 757.6) scale(1 1.04)" font-size="27.5" font-family="'Liberation Sans', Arial, sans-serif" fill="#1e1e1e">T350</text>
<text transform="translate(1109.5 638.8) scale(1 1.04)" font-size="27.5" font-family="'Liberation Sans', Arial, sans-serif" fill="#1e1e1e">E336</text>
<text transform="translate(1370.2 670.5) scale(1 1.04)" font-size="27.5" font-family="'Liberation Sans', Arial, sans-serif" fill="#1e1e1e">UIM3</text>
<text transform="translate(1562.3 758) scale(1 1.04)" font-size="27.5" font-family="'Liberation Sans', Arial, sans-serif" fill="#1e1e1e">T350</text>
</svg>
</body></html>
